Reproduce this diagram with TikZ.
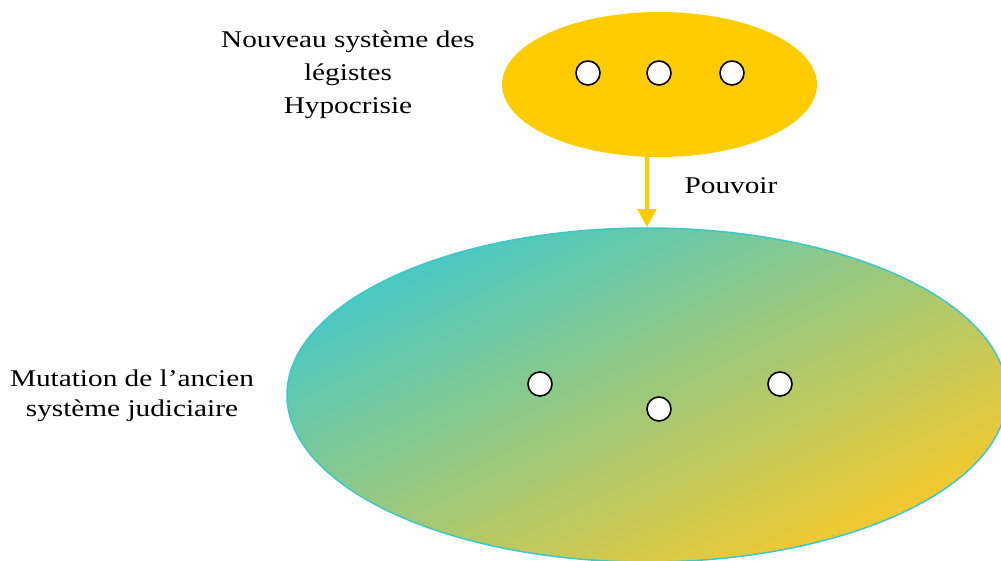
\documentclass[tikz,border=0pt]{standalone}
\usepackage{fontspec}
\setmainfont{Liberation Serif}
\newfontfamily\widefont[FakeStretch=1.22]{Liberation Serif}
\usetikzlibrary{shapes.geometric,arrows.meta}
\definecolor{gold}{HTML}{FFCC00}
\definecolor{tealc}{HTML}{45C9C8}
\definecolor{midc}{HTML}{BCCB94}
\definecolor{yelc}{HTML}{F7C92C}
\definecolor{tealborder}{HTML}{3CC8C8}
\tikzset{
  dot/.style={circle, draw=black, line width=1.6pt, fill=white, minimum size=24pt, inner sep=0pt},
  lbl/.style={align=center, font=\widefont\fontsize{24}{33}\selectfont, inner sep=0pt},
}
\begin{document}
\begin{tikzpicture}[x=1pt,y=-1pt]
\useasboundingbox (0,0) rectangle (1001,561);
\clip (0,0) rectangle (1001,561);
\node[ellipse, fill=gold, minimum width=315pt, minimum height=145pt, inner sep=0pt] (top) at (659.5,84.5) {};
\node[ellipse, draw=tealborder, line width=1.5pt, left color=tealc, middle color=midc, right color=yelc, shading angle=26, minimum width=720pt, minimum height=334pt, inner sep=0pt] (big) at (647,395) {};
\node[dot] (t1) at (588,73) {};
\node[dot] (t2) at (659,73) {};
\node[dot] (t3) at (732,73) {};
\node[dot] (b1) at (540,384) {};
\node[dot] (b2) at (659,409) {};
\node[dot] (b3) at (780,384) {};
\draw[gold, line width=4.5pt, -{Triangle[width=18pt,length=18pt]}] (top.south -| big.north) -- (big.north);
\node[lbl] (t) at (348,75) {Nouveau système des\\légistes\\Hypocrisie};
\node[lbl] (p) at (731,186) {Pouvoir};
\node[lbl, font=\widefont\fontsize{24}{30}\selectfont] (m) at (132,396) {Mutation de l’ancien\\système judiciaire};
\end{tikzpicture}
\end{document}
